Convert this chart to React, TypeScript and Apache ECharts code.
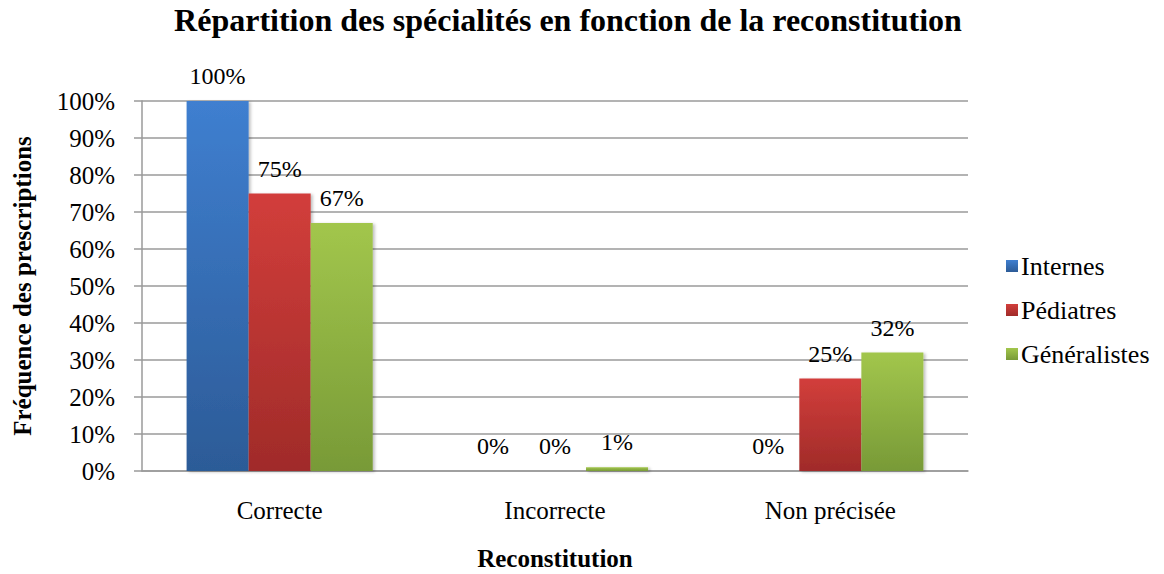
import React, { useEffect, useRef } from "react";
import * as echarts from "echarts";

const categories = ["Correcte", "Incorrecte", "Non précisée"];
const internes = [100, 0, 0];
const pediatres = [75, 0, 25];
const generalistes = [67, 1, 32];
const yTicks = [0, 10, 20, 30, 40, 50, 60, 70, 80, 90, 100];

const FONT = "'Liberation Serif', 'Times New Roman', serif";

function grad(top: string, bottom: string) {
  return new echarts.graphic.LinearGradient(0, 0, 0, 1, [
    { offset: 0, color: top },
    { offset: 1, color: bottom },
  ]);
}

export default function App() {
  const ref = useRef<HTMLDivElement>(null);
  useEffect(() => {
    document.body.style.margin = "0";
    const chart = echarts.init(ref.current!, null, { renderer: "svg" });
    const label = {
      show: true,
      position: "top" as const,
      distance: 13,
      formatter: "{c}%",
      color: "#000",
      fontFamily: FONT,
      fontSize: 24,
    };
    const mk = (name: string, data: number[], top: string, bottom: string) => ({
      name,
      type: "bar" as const,
      data,
      barGap: "0%",
      barCategoryGap: "32.4%",
      itemStyle: {
        color: grad(top, bottom),
        shadowColor: "rgba(0,0,0,0.25)",
        shadowBlur: 3,
        shadowOffsetX: 2,
        shadowOffsetY: 1,
      },
      label,
    });
    chart.setOption({
      animation: false,
      textStyle: { fontFamily: FONT },
      title: {
        text: "Répartition des spécialités en fonction de la reconstitution",
        left: 563,
        textAlign: "center",
        top: -1,
        textStyle: { fontFamily: FONT, fontSize: 32, fontWeight: "bold", color: "#000" },
      },
      legend: {
        orient: "vertical",
        left: 1001,
        top: 248,
        itemWidth: 12,
        itemHeight: 12,
        itemGap: 18,
        icon: "rect",
        textStyle: { fontFamily: FONT, fontSize: 26, color: "#000", padding: [0, 0, 0, -2] },
        data: ["Internes", "Pédiatres", "Généralistes"],
      },
      grid: {
        left: 142,
        right: 196,
        top: 101,
        bottom: 103,
        containLabel: false,
        outerBoundsMode: "none",
      },
      xAxis: {
        type: "category",
        data: categories,
        name: "Reconstitution",
        nameLocation: "middle",
        nameGap: 75,
        nameTextStyle: { fontFamily: FONT, fontSize: 25, fontWeight: "bold", color: "#000" },
        axisLine: { lineStyle: { color: "#9a9a9a", width: 1.5 } },
        axisTick: { show: false },
        axisLabel: { fontFamily: FONT, fontSize: 25, color: "#000", margin: 27 },
      },
      yAxis: {
        type: "value",
        min: yTicks[0],
        max: yTicks[yTicks.length - 1],
        interval: 10,
        name: "Fréquence des prescriptions",
        nameLocation: "middle",
        nameGap: 107,
        nameRotate: 90,
        nameTextStyle: { fontFamily: FONT, fontSize: 25, fontWeight: "bold", color: "#000" },
        axisLine: { show: true, lineStyle: { color: "#9a9a9a", width: 1.5 } },
        axisTick: { show: true, inside: false, length: 8, lineStyle: { color: "#9a9a9a", width: 1.5 } },
        axisLabel: { fontFamily: FONT, fontSize: 25, color: "#000", margin: 27, formatter: "{value}%" },
        splitLine: { lineStyle: { color: "#9a9a9a", width: 1.5 } },
      },
      series: [
        mk("Internes", internes, "#3f7fd0", "#2c5b97"),
        mk("Pédiatres", pediatres, "#d23e3b", "#a02b29"),
        mk("Généralistes", generalistes, "#a2c64c", "#789a37"),
      ],
    });
    return () => chart.dispose();
  }, []);
  return <div ref={ref} style={{ width: 1164, height: 574 }} />;
}
